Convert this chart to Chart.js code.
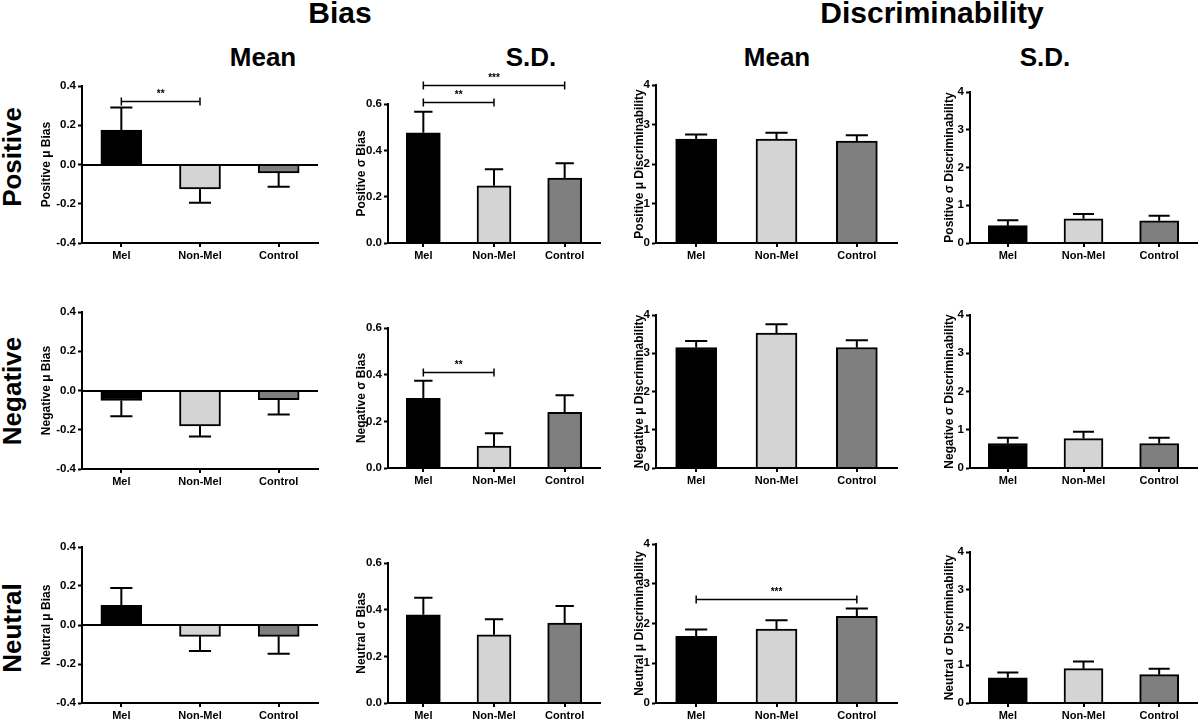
<!DOCTYPE html>
<html>
<head>
<meta charset="utf-8">
<script src="https://cdn.jsdelivr.net/npm/chart.js@4.4.0/dist/chart.umd.min.js"></script>
<style>
  html, body { margin: 0; padding: 0; background: #fff; overflow: hidden; }
  body { width: 1200px; height: 720px; position: relative; font-family: 'Liberation Sans', Arial, sans-serif; font-weight: bold; color: #000; }
  .lbl { position: absolute; transform: translate(-50%, -50%); white-space: nowrap; line-height: 1; }
  .row { position: absolute; transform: translate(-50%, -50%) rotate(-90deg); white-space: nowrap; line-height: 1; font-size: 26px; }
  canvas { position: absolute; }
</style>
</head>
<body>
<div class="lbl" style="left:340px;top:13px;font-size:30px">Bias</div>
<div class="lbl" style="left:932px;top:13px;font-size:30px">Discriminability</div>
<div class="lbl" style="left:263px;top:57px;font-size:26px">Mean</div>
<div class="lbl" style="left:531px;top:57px;font-size:26px">S.D.</div>
<div class="lbl" style="left:777px;top:57px;font-size:26px">Mean</div>
<div class="lbl" style="left:1045px;top:57px;font-size:26px">S.D.</div>
<div class="row" style="left:12px;top:157px">Positive</div>
<div class="row" style="left:12px;top:391px">Negative</div>
<div class="row" style="left:12px;top:628px">Neutral</div>

<script>
// groups and colours
const groups = ['Mel', 'Non-Mel', 'Control'];
const barColors = ['#000000', '#d4d4d4', '#7f7f7f'];

// y tick values
const muBiasTicks = [-0.4, -0.2, 0.0, 0.2, 0.4];
const sdBiasTicks = [0.0, 0.2, 0.4, 0.6];
const discTicks = [0, 1, 2, 3, 4];

// Positive
const posMuBias = [0.175, -0.125, -0.043];
const posMuBiasSem = [0.115, 0.070, 0.071];
const posSdBias = [0.476, 0.247, 0.280];
const posSdBiasSem = [0.091, 0.071, 0.064];
const posMuDisc = [2.63, 2.63, 2.58];
const posMuDiscSem = [0.12, 0.16, 0.15];
const posSdDisc = [0.46, 0.64, 0.59];
const posSdDiscSem = [0.14, 0.13, 0.13];

// Negative
const negMuBias = [-0.051, -0.180, -0.047];
const negMuBiasSem = [0.080, 0.055, 0.075];
const negSdBias = [0.299, 0.094, 0.239];
const negSdBiasSem = [0.075, 0.055, 0.073];
const negMuDisc = [3.15, 3.53, 3.15];
const negMuDiscSem = [0.17, 0.23, 0.19];
const negSdDisc = [0.64, 0.77, 0.64];
const negSdDiscSem = [0.15, 0.18, 0.15];

// Neutral
const neuMuBias = [0.101, -0.058, -0.058];
const neuMuBiasSem = [0.089, 0.075, 0.089];
const neuSdBias = [0.378, 0.292, 0.342];
const neuSdBiasSem = [0.073, 0.067, 0.074];
const neuMuDisc = [1.68, 1.86, 2.18];
const neuMuDiscSem = [0.17, 0.22, 0.20];
const neuSdDisc = [0.67, 0.91, 0.75];
const neuSdDiscSem = [0.14, 0.19, 0.16];

// significance brackets (group index from/to, height in axis units)
const posMuBiasSig = [{ from: 0, to: 1, at: 0.325, text: '**' }];
const posSdBiasSig = [{ from: 0, to: 1, at: 0.607, text: '**' }, { from: 0, to: 2, at: 0.68, text: '***' }];
const negSdBiasSig = [{ from: 0, to: 1, at: 0.413, text: '**' }];
const neuMuDiscSig = [{ from: 0, to: 2, at: 2.62, text: '***' }];

const FONT = "'Liberation Sans', Arial, sans-serif";
const PAD_TOP = 40, PAD_R = 4, X_H = 24;

// layout per column / row (page pixels)
const colGeom = [
  { titleX: 46, axisX: 82, right: 318, bar: 41 },
  { titleX: 361, axisX: 388, right: 600, bar: 34 },
  { titleX: 639, axisX: 656, right: 897, bar: 41 },
  { titleX: 949, axisX: 970, right: 1197, bar: 39 }
];
const rowGeom = [
  [[86, 243], [104, 243], [85, 243], [92, 243]],
  [[312, 469], [328, 468], [315, 468], [315, 468]],
  [[547, 703], [563, 703], [544, 703], [552, 703]]
];

const panels = [
  { row: 0, col: 0, values: posMuBias, sem: posMuBiasSem, ticks: muBiasTicks, dec: 1, title: 'Positive μ Bias', sig: posMuBiasSig },
  { row: 0, col: 1, values: posSdBias, sem: posSdBiasSem, ticks: sdBiasTicks, dec: 1, title: 'Positive σ Bias', sig: posSdBiasSig },
  { row: 0, col: 2, values: posMuDisc, sem: posMuDiscSem, ticks: discTicks, dec: 0, title: 'Positive μ Discriminability' },
  { row: 0, col: 3, values: posSdDisc, sem: posSdDiscSem, ticks: discTicks, dec: 0, title: 'Positive σ Discriminability' },
  { row: 1, col: 0, values: negMuBias, sem: negMuBiasSem, ticks: muBiasTicks, dec: 1, title: 'Negative μ Bias' },
  { row: 1, col: 1, values: negSdBias, sem: negSdBiasSem, ticks: sdBiasTicks, dec: 1, title: 'Negative σ Bias', sig: negSdBiasSig },
  { row: 1, col: 2, values: negMuDisc, sem: negMuDiscSem, ticks: discTicks, dec: 0, title: 'Negative μ Discriminability' },
  { row: 1, col: 3, values: negSdDisc, sem: negSdDiscSem, ticks: discTicks, dec: 0, title: 'Negative σ Discriminability' },
  { row: 2, col: 0, values: neuMuBias, sem: neuMuBiasSem, ticks: muBiasTicks, dec: 1, title: 'Neutral μ Bias' },
  { row: 2, col: 1, values: neuSdBias, sem: neuSdBiasSem, ticks: sdBiasTicks, dec: 1, title: 'Neutral σ Bias' },
  { row: 2, col: 2, values: neuMuDisc, sem: neuMuDiscSem, ticks: discTicks, dec: 0, title: 'Neutral μ Discriminability', sig: neuMuDiscSig },
  { row: 2, col: 3, values: neuSdDisc, sem: neuSdDiscSem, ticks: discTicks, dec: 0, title: 'Neutral σ Discriminability' }
];

// zero line on top of bars, error bars (one-sided, away from zero), significance brackets
const errorBars = {
  id: 'errorBars',
  afterDatasetsDraw(chart) {
    const ds = chart.data.datasets[0];
    const meta = chart.getDatasetMeta(0);
    const xs = chart.scales.x, ys = chart.scales.y;
    const area = chart.chartArea;
    const ctx = chart.ctx;
    ctx.save();
    ctx.strokeStyle = '#000';
    ctx.fillStyle = '#000';
    ctx.lineWidth = 2;

    const y0 = Math.round(ys.getPixelForValue(0));
    ctx.beginPath();
    ctx.moveTo(area.left - 1, y0);
    ctx.lineTo(area.right, y0);
    ctx.stroke();

    meta.data.forEach((bar, i) => {
      const v = ds.data[i];
      const end = v >= 0 ? v + ds.sem[i] : v - ds.sem[i];
      const yEnd = ys.getPixelForValue(end);
      const cap = bar.width * 0.27;
      ctx.beginPath();
      ctx.moveTo(bar.x, bar.y);
      ctx.lineTo(bar.x, yEnd);
      ctx.moveTo(bar.x - cap, yEnd);
      ctx.lineTo(bar.x + cap, yEnd);
      ctx.stroke();
    });

    (ds.sig || []).forEach(s => {
      const x1 = xs.getPixelForValue(s.from);
      const x2 = xs.getPixelForValue(s.to);
      const yy = Math.round(ys.getPixelForValue(s.at)) + 0.5;
      ctx.lineWidth = 1.5;
      ctx.beginPath();
      ctx.moveTo(x1, yy - 4); ctx.lineTo(x1, yy + 4);
      ctx.moveTo(x1, yy); ctx.lineTo(x2, yy);
      ctx.moveTo(x2, yy - 4); ctx.lineTo(x2, yy + 4);
      ctx.stroke();
      ctx.font = 'bold 10px ' + FONT;
      ctx.textAlign = 'center';
      ctx.textBaseline = 'middle';
      ctx.fillText(s.text, (x1 + x2) / 2, yy - 7);
    });
    ctx.restore();
  }
};

function buildChart(p) {
  const g = colGeom[p.col];
  const [top, bottom] = rowGeom[p.row][p.col];
  const boxLeft = Math.round(g.titleX - 7);
  const w = g.right - boxLeft + PAD_R;
  const h = PAD_TOP + (bottom - top) + X_H + 2;
  const cv = document.createElement('canvas');
  cv.width = w; cv.height = h;
  cv.style.left = boxLeft + 'px';
  cv.style.top = (top - PAD_TOP) + 'px';
  cv.style.width = w + 'px';
  cv.style.height = h + 'px';
  document.body.appendChild(cv);

  new Chart(cv.getContext('2d'), {
    type: 'bar',
    data: {
      labels: groups,
      datasets: [{
        data: p.values,
        sem: p.sem,
        sig: p.sig,
        backgroundColor: barColors,
        borderColor: '#000',
        borderWidth: 2,
        borderSkipped: 'start',
        barThickness: g.bar
      }]
    },
    options: {
      responsive: false,
      animation: false,
      devicePixelRatio: 1,
      layout: { padding: { top: PAD_TOP, right: PAD_R, bottom: 2, left: 0 } },
      plugins: { legend: { display: false }, tooltip: { enabled: false } },
      scales: {
        x: {
          offset: true,
          grid: { offset: false, drawOnChartArea: false, drawTicks: true, tickLength: 4, color: '#000', lineWidth: 2 },
          border: { display: true, color: '#000', width: 2 },
          ticks: { color: '#000', font: { family: FONT, size: 11, weight: 'bold' }, padding: 2, maxRotation: 0, autoSkip: false },
          afterFit: s => { s.height = X_H; }
        },
        y: {
          min: p.ticks[0],
          max: p.ticks[p.ticks.length - 1],
          afterBuildTicks: s => { s.ticks = p.ticks.map(v => ({ value: v })); },
          grid: {
            drawOnChartArea: false,
            drawTicks: true,
            tickLength: 4,
            tickColor: '#000',
            tickWidth: 2
          },
          border: { display: true, color: '#000', width: 2 },
          ticks: {
            color: '#000',
            font: { family: FONT, size: 11.5, weight: 'bold' },
            padding: 2,
            callback: v => Number(v).toFixed(p.dec)
          },
          title: { display: true, text: p.title, color: '#000', font: { family: FONT, size: 12, weight: 'bold' }, padding: 0 },
          afterFit: s => { s.width = g.axisX - boxLeft; }
        }
      }
    },
    plugins: [errorBars]
  });
}

panels.forEach(buildChart);
</script>
</body>
</html>
